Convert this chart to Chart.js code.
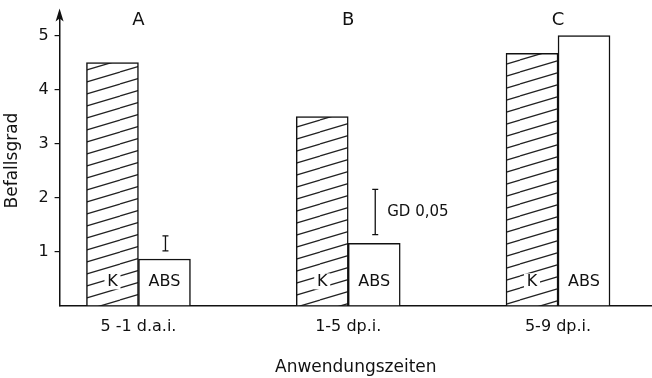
<!DOCTYPE html>
<html>
<head>
<meta charset="utf-8">
<script src="https://cdn.jsdelivr.net/npm/chart.js@4"></script>
<style>
  html, body { margin: 0; padding: 0; background: #fff; }
  #wrap { width: 652px; height: 378px; }
</style>
</head>
<body>
<div id="wrap"><canvas id="barChart"></canvas></div>
<script>
// Werte
var zeiten = ["5 -1 d.a.i.", "1-5 dp.i.", "5-9 dp.i."];
var gruppen = ["A", "B", "C"];
var positionen = [1, 2, 3];
var kontrolle = [4.5, 3.5, 4.67];
var absWerte = [0.86, 1.15, 5.0];
var gdUnten = [1.01, 1.31];
var gdOben = [1.29, 2.15];
var yTicks = [1, 2, 3, 4, 5];
var pfeilSpitze = 5.5;

var schrift = "'DejaVu Sans', sans-serif";

function schraffur() {
    var c = document.createElement('canvas');
    c.width = 40; c.height = 12;
    var g = c.getContext('2d');
    g.fillStyle = '#fff';
    g.fillRect(0, 0, 40, 12);
    g.strokeStyle = '#222';
    g.lineWidth = 1.2;
    for (var k = -1; k <= 1; k++) {
        g.beginPath();
        g.moveTo(0, 12 + k * 12);
        g.lineTo(40, k * 12);
        g.stroke();
    }
    return g.createPattern(c, 'repeat');
}

var extras = {
    id: 'extras',
    afterDatasetsDraw: function (chart) {
        var ctx = chart.ctx;
        var xs = chart.scales.x, ys = chart.scales.y;
        var area = chart.chartArea;
        var mK = chart.getDatasetMeta(0), mA = chart.getDatasetMeta(1);
        ctx.save();
        ctx.fillStyle = '#111';
        ctx.strokeStyle = '#111';

        // Pfeil der y-Achse
        var ax = area.left;
        var tip = ys.getPixelForValue(pfeilSpitze);
        ctx.lineWidth = 1.5;
        ctx.beginPath();
        ctx.moveTo(ax, area.top + 1);
        ctx.lineTo(ax, tip + 4);
        ctx.stroke();
        ctx.beginPath();
        ctx.moveTo(ax, tip);
        ctx.lineTo(ax - 4, tip + 13);
        ctx.lineTo(ax, tip + 10);
        ctx.lineTo(ax + 4, tip + 13);
        ctx.closePath();
        ctx.fill();

        // Gruppenbuchstaben
        ctx.font = '18px ' + schrift;
        ctx.textAlign = 'center';
        ctx.textBaseline = 'middle';
        positionen.forEach(function (p, i) {
            ctx.fillText(gruppen[i], xs.getPixelForValue(p), 20);
        });

        // K und ABS in den Balken
        ctx.font = '16px ' + schrift;
        var ly = area.bottom - 24;
        mK.data.forEach(function (bar) {
            ctx.fillStyle = '#fff';
            ctx.fillRect(bar.x - 8, ly - 8, 16, 16);
            ctx.fillStyle = '#111';
            ctx.fillText('K', bar.x, ly);
        });
        mA.data.forEach(function (bar) {
            ctx.fillText('ABS', bar.x, ly);
        });

        // Grenzdifferenz
        ctx.lineWidth = 1.3;
        gdUnten.forEach(function (lo, i) {
            var x = mA.data[i].x + 1;
            var y1 = ys.getPixelForValue(lo), y2 = ys.getPixelForValue(gdOben[i]);
            ctx.beginPath();
            ctx.moveTo(x, y1); ctx.lineTo(x, y2);
            ctx.moveTo(x - 3, y1); ctx.lineTo(x + 3, y1);
            ctx.moveTo(x - 3, y2); ctx.lineTo(x + 3, y2);
            ctx.stroke();
        });
        var b = mA.data[1];
        ctx.textAlign = 'left';
        ctx.font = '15px ' + schrift;
        ctx.fillText('GD 0,05', b.x + 13, ys.getPixelForValue((gdUnten[1] + gdOben[1]) / 2));
        ctx.restore();
    }
};

var ctx = document.getElementById('barChart').getContext('2d');
var myBarChart = new Chart(ctx, {
    type: 'bar',
    data: {
        datasets: [{
                label: 'K',
                data: positionen.map(function (p, i) { return {x: p, y: kontrolle[i]}; }),
                backgroundColor: schraffur(),
                borderColor: '#111',
                borderWidth: 1.5,
                barThickness: 52
            }, {
                label: 'ABS',
                data: positionen.map(function (p, i) { return {x: p, y: absWerte[i]}; }),
                backgroundColor: '#fff',
                borderColor: '#111',
                borderWidth: 1.5,
                barThickness: 52
            }
        ]
    },
    options: {
        responsive: true,
        maintainAspectRatio: false,
        animation: false,
        layout: {padding: {top: 2, left: 2, right: 0, bottom: 0}},
        plugins: {legend: {display: false}, tooltip: {enabled: false}},
        scales: {
            x: {
                type: 'linear',
                offset: false,
                min: 0.624,
                max: 3.448,
                afterBuildTicks: function (s) { s.ticks = positionen.map(function (v) { return {value: v}; }); },
                grid: {display: false, drawTicks: false},
                border: {display: true, color: '#111', width: 1.5},
                ticks: {
                    color: '#111',
                    font: {family: schrift, size: 16},
                    padding: 12,
                    callback: function (v) { return zeiten[positionen.indexOf(v)]; }
                },
                title: {display: true, text: 'Anwendungszeiten', color: '#111',
                    font: {family: schrift, size: 17}, padding: {top: 9, bottom: 0}}
            },
            y: {
                min: 0,
                max: 5.37,
                afterBuildTicks: function (s) { s.ticks = yTicks.map(function (v) { return {value: v}; }); },
                grid: {display: true, drawOnChartArea: false, drawTicks: true, tickLength: 5, color: '#111', lineWidth: 1.2},
                border: {display: true, color: '#111', width: 1.5},
                ticks: {color: '#111', font: {family: schrift, size: 16}, padding: 6},
                title: {display: true, text: 'Befallsgrad', color: '#111',
                    font: {family: schrift, size: 17}, padding: {top: 0, bottom: 10}}
            }
        }
    },
    plugins: [extras]
});
</script>
</body>
</html>
